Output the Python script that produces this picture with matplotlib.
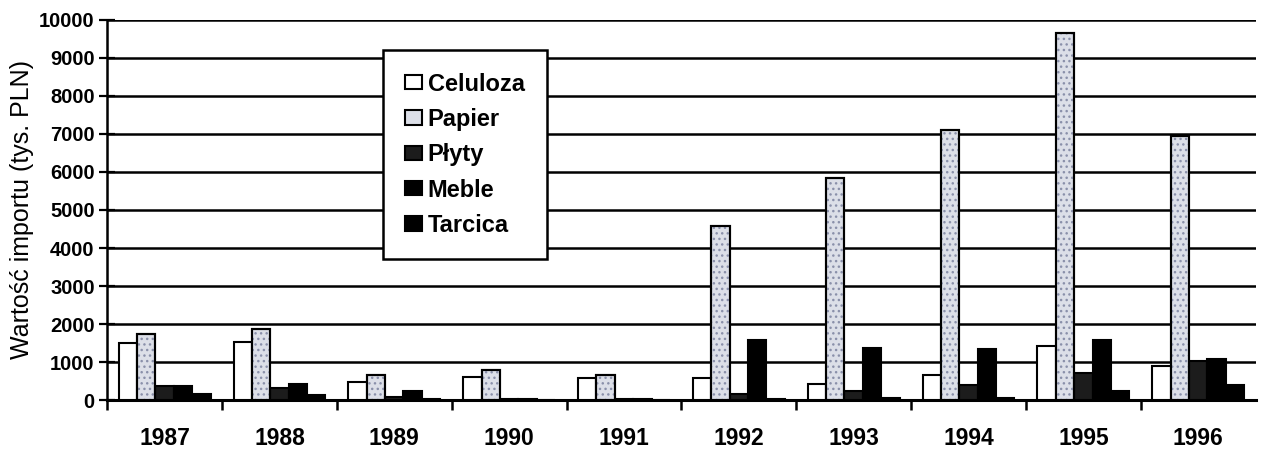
import numpy as np
import matplotlib
matplotlib.use("Agg")
import matplotlib.pyplot as plt
from matplotlib.patches import Patch

# dane (tys. PLN)
lata = ["1987", "1988", "1989", "1990", "1991", "1992", "1993", "1994", "1995", "1996"]
celuloza = [1500, 1530, 480, 620, 580, 570, 420, 650, 1430, 900]
papier = [1730, 1880, 670, 800, 650, 4580, 5840, 7100, 9650, 6950]
plyty = [380, 320, 80, 40, 25, 150, 250, 400, 720, 1030]
meble = [380, 430, 240, 30, 20, 1570, 1370, 1350, 1570, 1080]
tarcica = [160, 130, 30, 15, 10, 40, 50, 60, 250, 400]

nazwy = ["Celuloza", "Papier", "Płyty", "Meble", "Tarcica"]
serie = [celuloza, papier, plyty, meble, tarcica]
kolory = ["white", "#dcdfe8", "#1c1c1c", "black", "black"]

plt.rcParams['font.family'] = ['Liberation Sans', 'DejaVu Sans']

fig = plt.figure(figsize=(12.76, 4.61), dpi=100)
ax = fig.add_axes([0.084, 0.132, 0.9, 0.825])

x = np.arange(len(lata))
w = 0.16
for i, (s, c) in enumerate(zip(serie, kolory)):
    pos = x + (i - 2) * w
    ax.bar(pos, s, w, color=c, edgecolor="black", linewidth=1.5, zorder=3)
    if nazwy[i] == "Papier":
        # kropkowany deseń
        ax.bar(pos, s, w, color="none", edgecolor="#8a90aa", hatch="...",
               linewidth=0, zorder=4)
        ax.bar(pos, s, w, color="none", edgecolor="black", linewidth=1.5, zorder=5)

ax.set_xlim(-0.5, 9.5)
ax.set_ylim(0, 10000)
ax.set_yticks(np.arange(0, 10001, 1000))
ax.set_xticks(x)
ax.set_xticklabels(lata, fontsize=16.5, fontweight="bold")
ax.set_xticks(np.arange(-0.5, 9.5, 1.0), minor=True)
ax.tick_params(axis="x", which="major", length=0, pad=19)
ax.tick_params(axis="x", which="minor", direction="out", length=7, width=1.8)
ax.tick_params(axis="y", direction="inout", length=12, width=1.6, labelsize=14.5, pad=3)
for t in ax.get_yticklabels():
    t.set_fontweight("bold")

ax.yaxis.grid(True, color="black", linewidth=1.8, zorder=0)
ax.set_axisbelow(True)
ax.spines["top"].set_visible(False)
ax.spines["right"].set_visible(False)
ax.spines["left"].set_linewidth(1.8)
ax.spines["bottom"].set_linewidth(2.2)

ax.set_ylabel("Wartość importu (tys. PLN)", fontsize=18, labelpad=4)

uchwyty = [Patch(facecolor=c, edgecolor="black", linewidth=1.5) for c in kolory]
leg = ax.legend(uchwyty, nazwy, loc="upper left", bbox_to_anchor=(0.24, 0.92),
                prop={"size": 17, "weight": "bold"}, frameon=True, fancybox=False,
                framealpha=1, edgecolor="black", handlelength=0.7, handleheight=0.55,
                handletextpad=0.25, labelspacing=0.52, borderpad=0.95, borderaxespad=0)
leg.get_frame().set_linewidth(1.8)
leg.set_zorder(10)

fig.savefig("out.png", dpi=100)
